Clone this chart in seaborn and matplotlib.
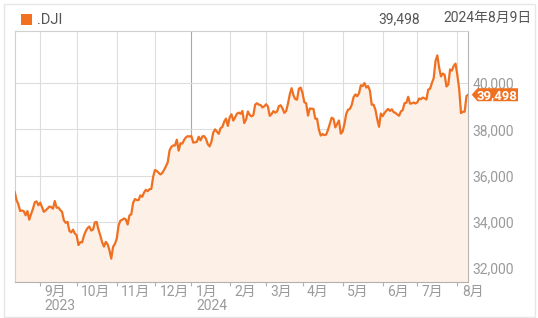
import numpy as np
import pandas as pd
import matplotlib
matplotlib.use("Agg")
import matplotlib.pyplot as plt
import matplotlib.transforms as mtransforms
from matplotlib.patches import Polygon, Rectangle
import seaborn as sns

# ---------------- data (daily closes, .DJI) ----------------
aug23 = [35307, 34946, 34766, 34474, 34500, 34464, 34288, 34473, 34099, 34347,
         34560, 34853, 34890, 34722]
sep23 = [34838, 34642, 34443, 34501, 34577, 34664, 34646, 34576, 34907, 34618,
         34625, 34518, 34441, 34070, 33964, 34007, 33619, 33551, 33667, 33508]
oct23 = [33433, 33002, 33130, 33120, 33408, 33605, 33739, 33805, 33631, 33670,
         33985, 33998, 33665, 33415, 33127, 32937, 33141, 33036, 32785, 32418,
         32929, 33053]
nov23 = [33275, 33840, 34061, 34096, 34153, 34112, 33892, 34283, 34338, 34828,
         34992, 34946, 34947, 35151, 35088, 35273, 35390, 35333, 35417, 35430,
         35951]
dec23 = [36246, 36204, 36125, 36055, 36117, 36248, 36405, 36578, 37090, 37248,
         37306, 37306, 37558, 37083, 37405, 37386, 37545, 37657, 37710, 37690]
jan24 = [37715, 37431, 37440, 37466, 37683, 37526, 37695, 37712, 37593, 37361,
         37267, 37469, 37864, 38001, 37906, 37807, 38050, 38109, 38333, 38467,
         38150]
feb24 = [38519, 38654, 38380, 38521, 38677, 38726, 38672, 38797, 38273, 38424,
         38773, 38628, 38564, 38612, 39069, 39131, 39069, 39053, 38949, 38996]
mar24 = [39087, 38990, 38585, 38661, 38791, 38723, 38770, 39005, 39043, 38906,
         38715, 38790, 39110, 39512, 39781, 39476, 39313, 39282, 39760, 39807]
apr24 = [39567, 39170, 39127, 38597, 38904, 38892, 38884, 38462, 38459, 37983,
         37735, 37799, 37753, 37775, 37986, 38240, 38504, 38461, 38086, 38240,
         38386, 37816]
may24 = [37903, 38226, 38676, 38852, 38884, 39056, 39388, 39513, 39432, 39558,
         39908, 39869, 40004, 39807, 39873, 39671, 39065, 39070, 38853, 38442,
         38112, 38686]
jun24 = [38571, 38711, 38807, 38886, 38799, 38868, 38747, 38712, 38647, 38589,
         38778, 38834, 39135, 39150, 39411, 39112, 39127, 39164, 39119]
jul24 = [39170, 39331, 39308, 39375, 39344, 39291, 39721, 39753, 40001, 40211,
         40954, 41198, 40665, 40288, 40415, 40358, 39854, 39935, 40589, 40539,
         40743, 40843]
aug24 = [40348, 39737, 38703, 38763, 38763, 39446, 39498]

months = [aug23, sep23, oct23, nov23, dec23, jan24, feb24, mar24, apr24,
          may24, jun24, jul24, aug24]
month_labels = ["9月", "10月", "11月", "12月", "1月", "2月", "3月", "4月",
                "5月", "6月", "7月", "8月"]
year_labels = {"9月": "2023", "1月": "2024"}
y_ticks = [32000, 34000, 36000, 38000, 40000]
y_tick_labels = ["32,000", "34,000", "36,000", "38,000", "40,000"]
symbol = ".DJI"
last_text = "39,498"
date_text = "2024年8月9日"

closes = [v for m in months for v in m]
df = pd.DataFrame({"idx": np.arange(len(closes)), "close": closes})
month_starts = list(np.cumsum([len(m) for m in months])[:-1])

# ---------------- style ----------------
sns.set_theme(style="white")
plt.rcParams["font.family"] = ["Roboto", "Noto Sans CJK JP", "DejaVu Sans"]

W, H = 538, 318
ORANGE = "#F07021"
FILL = "#FDF0E6"
GRID = "#dddddd"
LABEL = "#9a9a9a"
YMIN, YMAX = 31408, 42238

fig = plt.figure(figsize=(W / 100, H / 100), dpi=100)
fig.patch.set_facecolor("white")
L, R, T, B = 14.7, 468.3, 31.3, 282.0
ax = fig.add_axes([L / W, 1 - B / H, (R - L) / W, (B - T) / H])
ax.set_facecolor("white")

# grid (below fill)
for i, p in enumerate(month_starts):
    col = "#a8a8a8" if month_labels[i] == "1月" else GRID
    ax.axvline(p, color=col, lw=0.8, zorder=0)
for v in y_ticks:
    ax.axhline(v, color=GRID, lw=0.8, zorder=0)

ax.fill_between(df["idx"], df["close"], YMIN, color=FILL, lw=0, zorder=1)
sns.lineplot(data=df, x="idx", y="close", color=ORANGE, linewidth=1.6,
             ax=ax, zorder=3)

ax.set_xlim(0, len(closes) - 1)
ax.set_ylim(YMIN, YMAX)
ax.set_xlabel("")
ax.set_ylabel("")

# spines
for s in ["left", "top"]:
    ax.spines[s].set_color("#d0d0d0")
    ax.spines[s].set_linewidth(0.8)
ax.spines["right"].set_color("#b5b5b5")
ax.spines["right"].set_linewidth(0.8)
ax.spines["bottom"].set_color("#b0b0b0")
ax.spines["bottom"].set_linewidth(0.8)

# x ticks
ax.set_xticks(month_starts)
ax.set_xticklabels([""] * len(month_starts))
ax.tick_params(axis="x", direction="out", length=3.2, width=0.8,
               color="#b0b0b0", bottom=True)
xtrans = mtransforms.blended_transform_factory(ax.transData, ax.transAxes)
for p, lab in zip(month_starts, month_labels):
    off = mtransforms.ScaledTranslation(4.5 / 100, -2.5 / 100, fig.dpi_scale_trans)
    ax.text(p, 0, lab, transform=xtrans + off, ha="left", va="top",
            fontsize=10, color=LABEL)
    if lab in year_labels:
        off2 = mtransforms.ScaledTranslation(4.5 / 100, -17.5 / 100, fig.dpi_scale_trans)
        ax.text(p, 0, year_labels[lab], transform=xtrans + off2, ha="left",
                va="top", fontsize=10, color=LABEL)

# y ticks on right
ax.yaxis.tick_right()
ax.set_yticks(y_ticks)
ax.set_yticklabels(y_tick_labels)
ax.tick_params(axis="y", length=0, pad=3.2, labelsize=10, labelcolor=LABEL)

# last-value tag
last = closes[-1]
px = (YMAX - YMIN) / (B - T)  # data units per pixel
tr = mtransforms.blended_transform_factory(fig.transFigure, ax.transData)
hh = 6.5 * px
tip, shoulder, right = 471.7, 477.5, 518.0
poly = Polygon([(tip / W, last), (shoulder / W, last + hh), (right / W, last + hh),
                (right / W, last - hh), (shoulder / W, last - hh)],
               closed=True, transform=tr, facecolor=ORANGE, edgecolor="none",
               clip_on=False, zorder=5)
ax.add_patch(poly)
ax.text(477.0 / W, last - 0.5 * px, last_text, transform=tr, ha="left", va="center",
        fontsize=9.5, color="white", fontweight="bold", zorder=6, clip_on=False)

# header
fig.patches.append(Rectangle((21 / W, 1 - 24.7 / H), 10.7 / W, 10.7 / H,
                             transform=fig.transFigure, facecolor="#F37021",
                             edgecolor="none"))
fig.text(36.7 / W, 1 - 19.5 / H, symbol, ha="left", va="center",
         fontsize=10.5, color="#555555")
fig.text(419.5 / W, 1 - 19.5 / H, last_text, ha="right", va="center",
         fontsize=10, color="#555555")
fig.text(443.3 / W, 1 - 18.0 / H, date_text, ha="left", va="center",
         fontsize=10, color="#555555")

# outer frame
fig.patches.append(Rectangle((3.5 / W, 0.7 / H), (535 - 3.5) / W, (317.3 - 3.5) / H,
                             transform=fig.transFigure, fill=False,
                             edgecolor="#e6e6e6", linewidth=1))

fig.savefig("out.png", dpi=100)
